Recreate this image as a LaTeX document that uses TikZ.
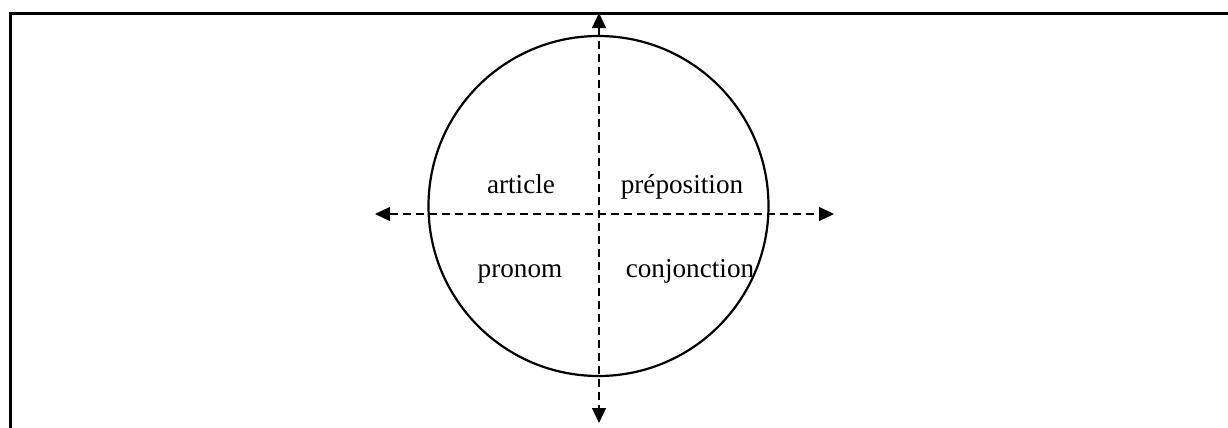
\documentclass[tikz,border=0pt]{standalone}
\usepackage{fontspec}
\setmainfont{Liberation Serif}
\usetikzlibrary{arrows.meta}

\begin{document}
\begin{tikzpicture}[
  x=0.5pt, y=-0.5pt,
  font=\fontsize{13.6}{16}\selectfont,
  every node/.style={align=center, inner sep=0pt},
  frameline/.style={line width=1.5pt},
  ring/.style={draw, circle, line width=1.1pt, minimum size=170pt},
  axis/.style={line width=0.6pt, dash pattern=on 4pt off 2.5pt, {Triangle[length=7.5pt,width=7pt]}-{Triangle[length=7.5pt,width=7pt]}},
  word/.style={anchor=base}
]
\useasboundingbox (0,0) rectangle (1228,428);
% cadre
\coordinate (fb) at (10,428);
\coordinate (ft) at (10,13);
\coordinate (fr) at (1228,13);
\draw[frameline] (fb) -- (ft) -- (fr);
% cercle
\node[ring] (rond) at (598.5,206) {};
% axes
\coordinate (haut) at (599,13);
\coordinate (bas) at (599,423);
\coordinate (gauche) at (375,214);
\coordinate (droite) at (834,214);
\draw[axis] (haut) -- (bas);
\draw[axis] (gauche) -- (droite);
% mots
\node[word] (article) at (521,193) {article};
\node[word] (prep) at (682,193) {préposition};
\node[word] (pronom) at (520,277) {pronom};
\node[word] (conj) at (690,277) {conjonction};
\end{tikzpicture}
\end{document}
